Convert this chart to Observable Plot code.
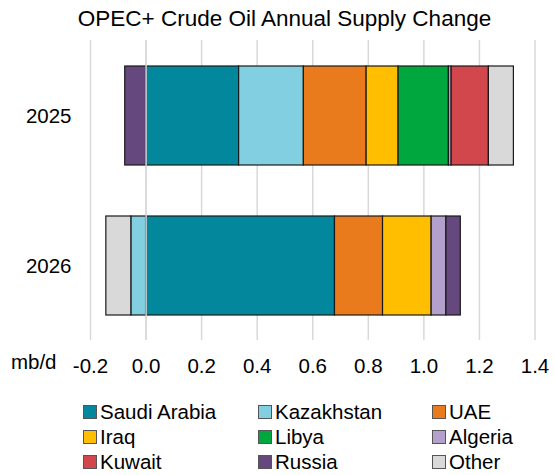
<!DOCTYPE html>
<html>
<head>
<meta charset="utf-8">
<script src="https://cdn.jsdelivr.net/npm/d3@7"></script>
<script src="https://cdn.jsdelivr.net/npm/@observablehq/plot@0.6"></script>
<style>
  html, body { margin: 0; padding: 0; background: #fff; }
  body { font-family: "Liberation Sans", Arial, sans-serif; }
  #wrap { position: relative; width: 555px; height: 475px; overflow: hidden; }
  #title { position: absolute; left: 0; top: 8px; width: 569px; text-align: center; font-size: 22.5px; line-height: 22.5px; color: #000; }
  #chart { position: absolute; left: 0; top: 40px; }
  #legend { position: absolute; left: 83px; top: 399px; display: grid; grid-template-columns: 175px 174px 110px; grid-auto-rows: 25px; font-size: 20.5px; color: #000; }
  .item { display: flex; align-items: center; white-space: nowrap; }
  .sw { width: 12px; height: 12px; border: 1px solid #555; margin-right: 3px; box-sizing: content-box; }
</style>
</head>
<body>
<div id="wrap">
  <div id="title">OPEC+ Crude Oil Annual Supply Change</div>
  <div id="chart"></div>
  <div id="legend"></div>
</div>
<script>
const years = ["2025", "2026"];
const countries = ["Saudi Arabia", "Kazakhstan", "UAE", "Iraq", "Libya", "Algeria", "Kuwait", "Russia", "Other"];
const colors = ["#02879C", "#82CFE1", "#E97B1C", "#FFBF00", "#00A73E", "#B3A0CC", "#D2474B", "#64487E", "#D9D9D9"];
// values per country: [2025, 2026] in mb/d
const saudiArabia = [0.335, 0.680];
const kazakhstan = [0.233, -0.053];
const uae = [0.226, 0.173];
const iraq = [0.115, 0.175];
const libya = [0.181, 0];
const algeria = [0.010, 0.053];
const kuwait = [0.134, 0];
const russia = [-0.075, 0.052];
const other = [0.090, -0.090];
const xTicks = [-0.2, 0, 0.2, 0.4, 0.6, 0.8, 1.0, 1.2, 1.4];

const series = [saudiArabia, kazakhstan, uae, iraq, libya, algeria, kuwait, russia, other];
const rows = [];
years.forEach((year, yi) => {
  countries.forEach((country, ci) => {
    const v = series[ci][yi];
    if (v !== 0) rows.push({year, country, value: v});
  });
});

const fmt = d => (Math.abs(d) < 1e-9 ? 0 : d).toFixed(1);

const plot = Plot.plot({
  width: 555,
  height: 345,
  marginTop: 0,
  marginBottom: 45,
  marginLeft: 90,
  marginRight: 20.5,
  style: {fontFamily: "'Liberation Sans', Arial, sans-serif", fontSize: "20.5px", color: "#000", background: "#fff"},
  x: {domain: [-0.2, 1.4], ticks: xTicks, tickFormat: fmt, label: null},
  y: {domain: years, paddingInner: 0.34, paddingOuter: 0.165, label: null},
  color: {domain: countries, range: colors},
  marks: [
    Plot.gridX(xTicks, {stroke: "#d9d9d9", strokeOpacity: 1, strokeWidth: 1.5}),
    Plot.barX(rows, Plot.stackX({x: "value", y: "year", fill: "country", stroke: "#1a1a1a", strokeWidth: 1.2, order: null})),
    Plot.ruleX([0], {stroke: "#d9d9d9", strokeWidth: 1.5}),
    Plot.axisX(xTicks, {tickSize: 0, tickPadding: 18, tickFormat: fmt, fontSize: 20.5}),
    Plot.axisY(years, {tickSize: 0, tickPadding: 19, fontSize: 20.5}),
    Plot.text(["mb/d"], {frameAnchor: "bottom-left", dx: -34, dy: 28, textAnchor: "end", fontSize: 20.5, fill: "#000"})
  ]
});
document.getElementById("chart").appendChild(plot);

const legend = document.getElementById("legend");
countries.forEach((c, i) => {
  const item = document.createElement("div");
  item.className = "item";
  const sw = document.createElement("span");
  sw.className = "sw";
  sw.style.background = colors[i];
  const label = document.createElement("span");
  label.textContent = c;
  item.appendChild(sw);
  item.appendChild(label);
  legend.appendChild(item);
});
</script>
</body>
</html>
